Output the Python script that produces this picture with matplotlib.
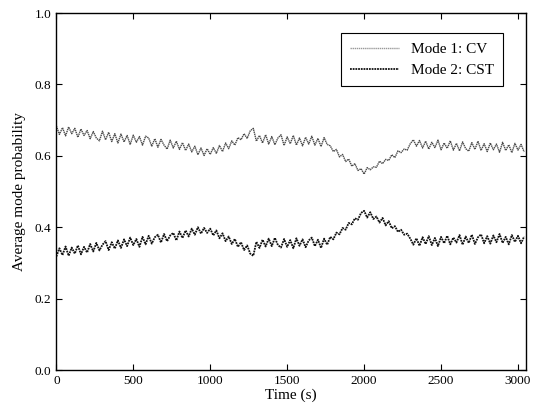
import numpy as np
import matplotlib
matplotlib.use("Agg")
import matplotlib.pyplot as plt

# time axis (s), one sample every 20 s
time_s = np.arange(0, 3041, 20)

# Mode 1: CV  (noise included)
mode1_cv = [
    0.684, 0.660, 0.679, 0.656, 0.681, 0.662, 0.677, 0.652, 0.675, 0.657,
    0.671, 0.648, 0.668, 0.650, 0.642, 0.669, 0.645, 0.666, 0.640, 0.662,
    0.636, 0.661, 0.639, 0.657, 0.632, 0.658, 0.638, 0.654, 0.630, 0.655,
    0.650, 0.627, 0.648, 0.624, 0.646, 0.630, 0.619, 0.644, 0.622, 0.641,
    0.618, 0.637, 0.615, 0.633, 0.611, 0.627, 0.603, 0.622, 0.601, 0.620,
    0.604, 0.623, 0.607, 0.629, 0.612, 0.636, 0.620, 0.642, 0.630, 0.651,
    0.645, 0.662, 0.649, 0.670, 0.677, 0.641, 0.657, 0.636, 0.659, 0.633,
    0.654, 0.631, 0.650, 0.659, 0.629, 0.653, 0.634, 0.657, 0.630, 0.650,
    0.628, 0.652, 0.633, 0.655, 0.630, 0.649, 0.626, 0.651, 0.632, 0.628,
    0.612, 0.618, 0.597, 0.604, 0.584, 0.591, 0.571, 0.578, 0.559, 0.564,
    0.549, 0.567, 0.561, 0.569, 0.568, 0.585, 0.578, 0.590, 0.587, 0.603,
    0.595, 0.614, 0.609, 0.619, 0.616, 0.634, 0.645, 0.627, 0.643, 0.622,
    0.641, 0.619, 0.638, 0.623, 0.644, 0.617, 0.636, 0.621, 0.642, 0.616,
    0.635, 0.614, 0.639, 0.620, 0.613, 0.637, 0.618, 0.641, 0.615, 0.634,
    0.612, 0.636, 0.617, 0.633, 0.610, 0.638, 0.615, 0.631, 0.609, 0.635,
    0.616, 0.632, 0.611,
]

# Mode 2: CST
mode2_cst = [
    0.318, 0.341, 0.322, 0.346, 0.320, 0.343, 0.326, 0.349, 0.324, 0.345,
    0.329, 0.353, 0.332, 0.356, 0.335, 0.351, 0.361, 0.336, 0.358, 0.340,
    0.363, 0.342, 0.366, 0.347, 0.371, 0.350, 0.367, 0.345, 0.373, 0.352,
    0.376, 0.354, 0.372, 0.379, 0.357, 0.381, 0.361, 0.377, 0.384, 0.363,
    0.388, 0.370, 0.391, 0.374, 0.396, 0.379, 0.400, 0.382, 0.398, 0.384,
    0.396, 0.377, 0.391, 0.369, 0.383, 0.361, 0.374, 0.353, 0.367, 0.345,
    0.358, 0.336, 0.349, 0.326, 0.320, 0.359, 0.342, 0.365, 0.346, 0.368,
    0.347, 0.370, 0.350, 0.343, 0.367, 0.345, 0.364, 0.341, 0.369, 0.348,
    0.366, 0.344, 0.363, 0.371, 0.347, 0.365, 0.342, 0.368, 0.351, 0.373,
    0.366, 0.385, 0.380, 0.398, 0.393, 0.412, 0.408, 0.425, 0.421, 0.440,
    0.446, 0.427, 0.442, 0.423, 0.430, 0.413, 0.426, 0.405, 0.417, 0.397,
    0.403, 0.387, 0.393, 0.379, 0.382, 0.368, 0.351, 0.369, 0.348, 0.372,
    0.353, 0.375, 0.350, 0.370, 0.347, 0.373, 0.355, 0.376, 0.352, 0.371,
    0.357, 0.378, 0.351, 0.374, 0.356, 0.379, 0.353, 0.372, 0.380, 0.355,
    0.375, 0.354, 0.377, 0.358, 0.381, 0.356, 0.373, 0.352, 0.378, 0.359,
    0.376, 0.355, 0.374,
]

plt.rcParams['font.family'] = ['Liberation Serif', 'DejaVu Serif']

fig = plt.figure(figsize=(5.38, 4.17), dpi=100)
ax = fig.add_axes([0.1047, 0.1127, 0.873, 0.856])

ax.plot(time_s, mode1_cv, color="#4a4a4a", lw=1.0, ls=(0, (1, 0.5)), label="Mode 1: CV")
ax.plot(time_s, mode2_cst, color="#111111", lw=1.3, ls=(0, (1, 0.5)), label="Mode 2: CST")

ax.set_xlim(0, 3052)
ax.set_ylim(0.0, 1.0)
ax.set_xticks([0, 500, 1000, 1500, 2000, 2500, 3000])
ax.set_yticks([0.0, 0.2, 0.4, 0.6, 0.8, 1.0])
ax.set_yticklabels(["0.0", "0.2", "0.4", "0.6", "0.8", "1.0"])
ax.tick_params(direction="in", top=True, right=True, labelsize=9.5, length=4, width=0.8)
for s in ax.spines.values():
    s.set_linewidth(1.0)

ax.set_xlabel("Time (s)", fontsize=11, labelpad=1)
ax.set_ylabel("Average mode probability", fontsize=11, labelpad=6)

leg = ax.legend(loc="upper right", bbox_to_anchor=(0.951, 0.944), borderaxespad=0,
                fancybox=False, edgecolor="black", fontsize=11, handlelength=3.2,
                framealpha=1, borderpad=0.6)
leg.get_frame().set_linewidth(0.8)
leg.get_lines()[0].set_color("#999999")

fig.savefig("out.png", dpi=100)
